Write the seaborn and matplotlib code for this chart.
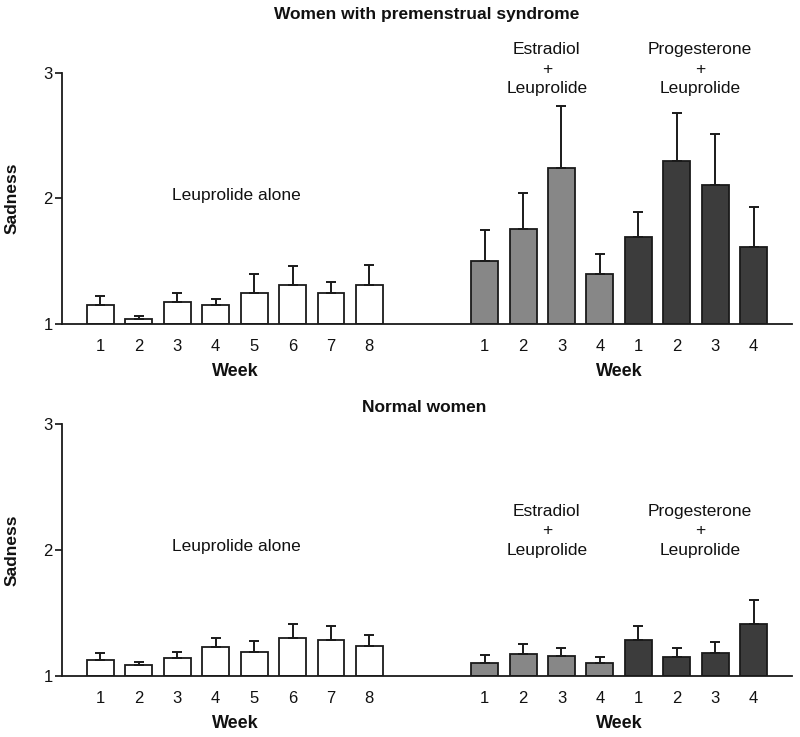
import numpy as np
import pandas as pd
import matplotlib
matplotlib.use("Agg")
import matplotlib.pyplot as plt
import matplotlib.transforms as mtransforms
import seaborn as sns

sns.set_theme(style="ticks")
plt.rcParams['font.family'] = ['Liberation Sans', 'DejaVu Sans']

# ---- data ----
week_labels = ["1", "2", "3", "4", "5", "6", "7", "8", "1", "2", "3", "4", "1", "2", "3", "4"]
groups = ["Leuprolide alone"] * 8 + ["Estradiol + Leuprolide"] * 4 + ["Progesterone + Leuprolide"] * 4

pms_mean = [1.15, 1.04, 1.175, 1.15, 1.25, 1.31, 1.245, 1.31,
            1.505, 1.755, 2.245, 1.40,
            1.69, 2.30, 2.11, 1.615]
pms_upper = [1.225, 1.06, 1.25, 1.20, 1.40, 1.465, 1.335, 1.47,
             1.75, 2.045, 2.74, 1.56,
             1.89, 2.68, 2.51, 1.935]

normal_mean = [1.125, 1.087, 1.14, 1.233, 1.19, 1.30, 1.285, 1.235,
               1.106, 1.175, 1.16, 1.10,
               1.285, 1.153, 1.18, 1.41]
normal_upper = [1.185, 1.11, 1.19, 1.30, 1.275, 1.415, 1.40, 1.325,
                1.17, 1.254, 1.225, 1.15,
                1.40, 1.22, 1.27, 1.60]

palette = {"Leuprolide alone": "#ffffff",
           "Estradiol + Leuprolide": "#878787",
           "Progesterone + Leuprolide": "#3c3c3c"}

# slot ids (two empty slots separate the groups)
bar_ids = [f"b{i}" for i in range(16)]
order = bar_ids[:8] + ["gap1", "gap2"] + bar_ids[8:]

fig = plt.figure(figsize=(8, 7.37), dpi=100)
ax_top = fig.add_axes([0.0775, 0.5604, 0.9125, 0.3406])
ax_bot = fig.add_axes([0.0775, 0.0828, 0.9125, 0.3423])

def draw_panel(ax, means, uppers, leu_y, combo_y):
    df = pd.DataFrame({"slot": bar_ids, "value": np.array(means) - 1.0,
                       "group": groups})
    sns.barplot(data=df, x="slot", y="value", hue="group", order=order,
                palette=palette, dodge=False, errorbar=None, width=0.7,
                edgecolor="#1a1a1a", linewidth=1.3, legend=False,
                bottom=1.0, ax=ax)
    bars = [p for p in ax.patches if p.get_height() > 0]
    xs = np.array([p.get_x() + p.get_width() / 2 for p in bars])
    tops = np.array([p.get_y() + p.get_height() for p in bars])
    idx = np.argsort(xs)
    xs = xs[idx]
    tops = tops[idx]
    err = np.array(uppers) - np.array(means)
    ax.errorbar(xs, tops, yerr=[np.zeros_like(err), err], fmt="none",
                ecolor="#1a1a1a", elinewidth=1.4, capsize=3.4, capthick=1.4,
                zorder=1)
    ax.set_xlim(-1, 18)
    ax.set_ylim(1, 3)
    ax.set_yticks([1, 2, 3])
    ax.set_yticklabels(["1", "2", "3"])
    ax.set_xticks(xs)
    ax.set_xticklabels(week_labels)
    ax.tick_params(axis="x", length=0, pad=11, labelsize=12, colors="#111111")
    ax.tick_params(axis="y", length=5, width=1.2, pad=1.5, labelsize=12,
                   colors="#111111", direction="out")
    for s in ["top", "right"]:
        ax.spines[s].set_visible(False)
    for s in ["left", "bottom"]:
        ax.spines[s].set_linewidth(1.3)
        ax.spines[s].set_color("#1a1a1a")
    ax.set_xlabel("")
    ax.set_ylabel("Sadness", fontsize=12.5, fontweight="bold", color="#111111")
    ax.yaxis.set_label_coords(-0.0575, 0.5)
    ax.set_facecolor("white")

    trans = mtransforms.blended_transform_factory(ax.transData, ax.transAxes)
    ax.text(np.mean(xs[:8]), -0.19, "Week", transform=trans, ha="center",
            va="center", fontsize=13, fontweight="bold", color="#111111")
    ax.text(np.mean(xs[8:]), -0.19, "Week", transform=trans, ha="center",
            va="center", fontsize=13, fontweight="bold", color="#111111")
    ax.text(np.mean(xs[:8]) + 0.05, leu_y, "Leuprolide alone", ha="center",
            va="center", fontsize=12.5, color="#111111")
    ax.text(np.mean(xs[8:12]) + 0.12, combo_y, "Estradiol\n+\nLeuprolide",
            ha="center", va="center", fontsize=12.5, color="#111111",
            linespacing=1.4, clip_on=False)
    ax.text(np.mean(xs[12:]) + 0.1, combo_y, "Progesterone\n+\nLeuprolide",
            ha="center", va="center", fontsize=12.5, color="#111111",
            linespacing=1.4, clip_on=False)

draw_panel(ax_top, pms_mean, pms_upper, 2.02, 3.03)
draw_panel(ax_bot, normal_mean, normal_upper, 2.03, 2.15)

fig.text(427 / 800, 1 - 14 / 737, "Women with premenstrual syndrome",
         ha="center", va="center", fontsize=12.5, fontweight="bold",
         color="#111111")
fig.text(424 / 800, 1 - 408 / 737, "Normal women",
         ha="center", va="center", fontsize=12.5, fontweight="bold",
         color="#111111")

fig.savefig("out.png", dpi=100, facecolor="white")
